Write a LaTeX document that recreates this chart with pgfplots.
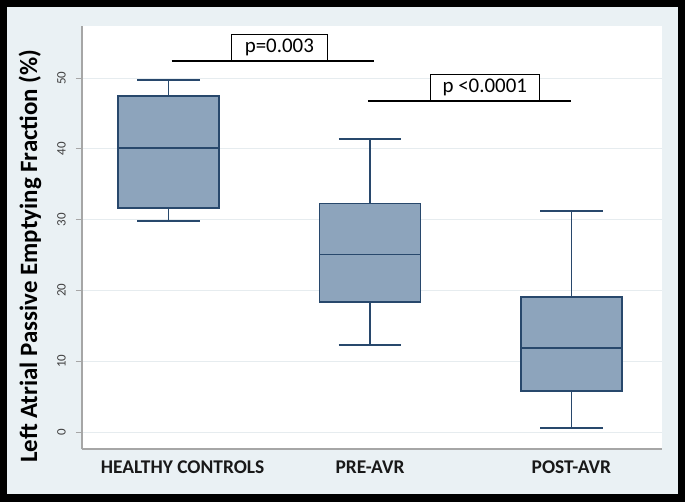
\documentclass[border=0pt]{standalone}
\usepackage{pgfplots}
\pgfplotsset{compat=1.18}
\usepgfplotslibrary{statistics}
\usepackage{fontspec}
\setmainfont{Carlito}
\definecolor{panel}{HTML}{EAF1F4}
\definecolor{boxfill}{HTML}{8DA4BC}
\definecolor{boxedge}{HTML}{28486C}
\definecolor{gridc}{HTML}{E6ECEF}
\definecolor{axisc}{HTML}{A6A6A6}
\definecolor{tickc}{HTML}{404040}
\begin{document}
\begin{tikzpicture}
\fill[black] (-82bp,-53bp) rectangle (603bp,449bp);
\fill[panel] (-75bp,-45bp) rectangle (596bp,442bp);
\begin{axis}[at={(0,0)}, anchor=south west, scale only axis,
  width=580bp, height=423bp,
  xmin=0.57, xmax=3.45, ymin=-2.4, ymax=57.35,
  axis background/.style={fill=white},
  axis x line*=bottom, axis y line*=left,
  axis line style={axisc, line width=1.2bp, -},
  xtick={1,2,3}, xticklabels={{\hspace*{28bp}HEALTHY CONTROLS}, PRE-AVR, POST-AVR},
  x tick style={draw=none},
  xticklabel style={font=\bfseries\fontsize{19.5}{19.5}\selectfont, text=black!90, yshift=-2bp},
  ytick={0,10,20,30,40,50},
  y tick style={axisc, line width=1bp},
  major tick length=6bp, tick align=outside,
  ymajorgrids, grid style={gridc, line width=1bp},
  /pgf/number format/assume math mode=true,
  yticklabel style={rotate=90, anchor=south, inner sep=0pt, yshift=10bp, font=\fontsize{13}{13}\selectfont, text=tickc},
  ylabel={Left Atrial Passive Emptying Fraction (\%)},
  ylabel style={font=\bfseries\fontsize{25}{25}\selectfont, at={(axis description cs:-0.0897,0.456)}, anchor=center},
  boxplot/draw direction=y,
  boxplot/box extend=0.5, boxplot/whisker extend=0.31,
]
\addplot[boxplot prepared={median=40.1, upper quartile=47.5, lower quartile=31.6, upper whisker=49.7, lower whisker=29.8, draw position=1}, draw=boxedge, fill=boxfill, line width=1.6bp] coordinates {};
\addplot[boxplot prepared={median=25.1, upper quartile=32.3, lower quartile=18.4, upper whisker=41.4, lower whisker=12.3, draw position=2}, draw=boxedge, fill=boxfill, line width=1.6bp] coordinates {};
\addplot[boxplot prepared={median=11.9, upper quartile=19.1, lower quartile=5.8, upper whisker=31.2, lower whisker=0.6, draw position=3}, draw=boxedge, fill=boxfill, line width=1.6bp] coordinates {};
\addplot[black, line width=2.5bp, forget plot] coordinates {(1.015,52.4) (2.02,52.4)};
\addplot[black, line width=2.5bp, forget plot] coordinates {(1.99,46.75) (3.0,46.75)};
\node[draw=black, line width=1.3bp, fill=white, anchor=south, minimum width=96bp, text height=14bp, text depth=4bp, inner ysep=4bp, font=\fontsize{21}{21}\selectfont] at (axis cs:1.55,52.4) {p=0.003};
\node[draw=black, line width=1.3bp, fill=white, anchor=south, minimum width=109bp, text height=14bp, text depth=4bp, inner ysep=4bp, font=\fontsize{21}{21}\selectfont] at (axis cs:2.57,46.75) {p <0.0001};
\end{axis}
\end{tikzpicture}
\end{document}
